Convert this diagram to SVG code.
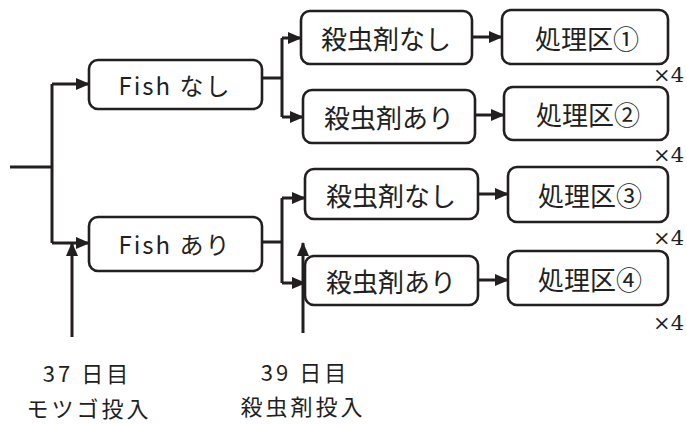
<svg xmlns="http://www.w3.org/2000/svg" width="687" height="424" viewBox="0 0 687 424">
<style>
.box{fill:#fff;stroke:#231f20;stroke-width:2.6}
.ln{fill:none;stroke:#231f20;stroke-width:3}
.t{font-family:"Noto Sans CJK JP","Noto Sans",sans-serif;font-size:26px;fill:#231f20;text-anchor:middle;dominant-baseline:central}
.b{font-family:"Noto Sans CJK JP","Noto Sans",sans-serif;font-size:22px;fill:#231f20;text-anchor:middle;dominant-baseline:central;letter-spacing:3px}
.f{font-family:"Noto Sans CJK JP","DejaVu Sans",sans-serif;font-size:24px;fill:#231f20;text-anchor:middle;dominant-baseline:central;letter-spacing:2px}
.x{font-family:"DejaVu Serif",serif;font-size:21px;fill:#231f20;text-anchor:end}
</style>
<defs>
<marker id="ah" markerUnits="userSpaceOnUse" markerWidth="14" markerHeight="12" refX="13" refY="6" orient="auto">
<path d="M0,0 L14,6 L0,12 Z" fill="#231f20"/>
</marker>
</defs>
<g id="connectors">
<path class="ln" d="M10,167 H52"/>
<path class="ln" d="M52,84 V243"/>
<path class="ln" d="M52,84 H89" marker-end="url(#ah)"/>
<path class="ln" d="M52,243 H89" marker-end="url(#ah)"/>
<path class="ln" d="M72,337 V243" marker-end="url(#ah)"/>
<path class="ln" d="M262,78 H282"/>
<path class="ln" d="M282,38 V117"/>
<path class="ln" d="M282,38 H301" marker-end="url(#ah)"/>
<path class="ln" d="M282,117 H303" marker-end="url(#ah)"/>
<path class="ln" d="M262,242 H282"/>
<path class="ln" d="M282,198 V283"/>
<path class="ln" d="M282,198 H305" marker-end="url(#ah)"/>
<path class="ln" d="M282,283 H305" marker-end="url(#ah)"/>
<path class="ln" d="M303,333 V243" marker-end="url(#ah)"/>
<path class="ln" d="M472,37 H502" marker-end="url(#ah)"/>
<path class="ln" d="M475,115 H504" marker-end="url(#ah)"/>
<path class="ln" d="M478,194 H508" marker-end="url(#ah)"/>
<path class="ln" d="M478,280 H508" marker-end="url(#ah)"/>
</g>
<g id="fish-nashi"><rect class="box" x="89" y="60" width="173" height="49" rx="9"/><text class="f" x="175" y="84">Fish なし</text></g>
<g id="fish-ari"><rect class="box" x="89" y="217" width="173" height="54" rx="9"/><text class="f" x="175" y="243">Fish あり</text></g>
<g id="ins-nashi-1"><rect class="box" x="301" y="11" width="171" height="53" rx="9"/><text class="t" x="386" y="37">殺虫剤なし</text></g>
<g id="ins-ari-1"><rect class="box" x="303" y="90" width="172" height="53" rx="9"/><text class="t" x="389" y="116">殺虫剤あり</text></g>
<g id="ins-nashi-2"><rect class="box" x="305" y="169" width="173" height="50" rx="9"/><text class="t" x="391" y="194">殺虫剤なし</text></g>
<g id="ins-ari-2"><rect class="box" x="305" y="256" width="173" height="49" rx="9"/><text class="t" x="391" y="280">殺虫剤あり</text></g>
<g id="t1"><rect class="box" x="502" y="10" width="166" height="54" rx="9"/><text class="t" x="587" y="37" font-size="27">処理区①</text></g>
<g id="t2"><rect class="box" x="504" y="87" width="164" height="53" rx="9"/><text class="t" x="588" y="113" font-size="27">処理区②</text></g>
<g id="t3"><rect class="box" x="508" y="167" width="160" height="55" rx="9"/><text class="t" x="590" y="194" font-size="27">処理区③</text></g>
<g id="t4"><rect class="box" x="508" y="251" width="160" height="54" rx="9"/><text class="t" x="590" y="278" font-size="27">処理区④</text></g>
<g id="labels">
<text class="x" x="684" y="82">×4</text>
<text class="x" x="684" y="162">×4</text>
<text class="x" x="684" y="245">×4</text>
<text class="x" x="684" y="330">×4</text>
<text class="b" x="87" y="372">37 日目</text>
<text class="b" x="89" y="407">モツゴ投入</text>
<text class="b" x="305" y="371">39 日目</text>
<text class="b" x="303" y="405">殺虫剤投入</text>
</g>
</svg>
